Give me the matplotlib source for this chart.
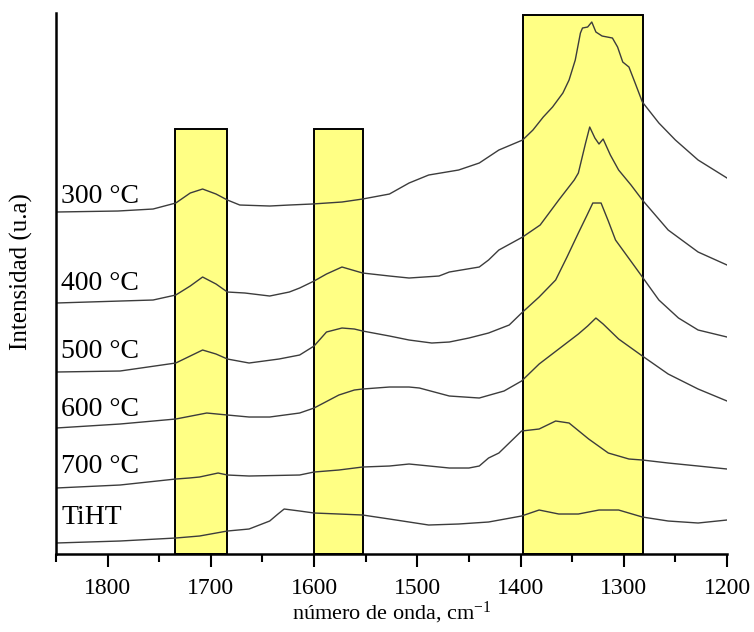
import matplotlib
matplotlib.use("Agg")
import matplotlib.pyplot as plt
from matplotlib.patches import Rectangle
from matplotlib.ticker import MultipleLocator

plt.rcParams["font.family"] = ["Liberation Serif", "DejaVu Serif"]
plt.rcParams["mathtext.default"] = "regular"

# espectros (número de onda en cm-1, intensidad con desplazamiento)
wn_300 = [1850, 1790, 1756, 1734, 1720, 1708, 1695, 1684, 1672, 1643, 1624, 1602, 1573, 1553,
          1527, 1508, 1489, 1460, 1440, 1421, 1398, 1388, 1378, 1369, 1359, 1353, 1347, 1342,
          1340, 1335, 1331, 1327, 1321, 1311, 1306, 1301, 1295, 1289, 1282, 1266, 1250, 1228,
          1200]
i_300 = [342, 343, 345, 351, 361, 365, 360, 354, 349, 348, 349, 350, 352, 355,
         360, 371, 379, 384, 391, 404, 414, 424, 437, 447, 461, 474, 494, 521,
         526, 527, 532, 522, 518, 516, 507, 492, 487, 471, 452, 431, 414, 394,
         376]

wn_400 = [1850, 1756, 1734, 1720, 1708, 1695, 1684, 1667, 1643, 1624, 1614, 1600, 1588, 1573,
          1553, 1527, 1508, 1479, 1469, 1440, 1431, 1421, 1398, 1381, 1363, 1348, 1344, 1337,
          1333, 1328, 1324, 1320, 1313, 1305, 1293, 1282, 1257, 1228, 1200]
i_400 = [251, 254, 259, 268, 277, 270, 262, 261, 258, 262, 266, 273, 280, 287,
         281, 278, 276, 278, 282, 287, 294, 304, 317, 329, 354, 374, 381, 411,
         427, 416, 410, 415, 399, 384, 369, 354, 324, 302, 289]

wn_500 = [1850, 1788, 1734, 1720, 1708, 1695, 1684, 1663, 1634, 1614, 1600, 1588, 1573, 1561,
          1553, 1527, 1508, 1486, 1469, 1450, 1431, 1411, 1399, 1382, 1366, 1355, 1344, 1336,
          1330, 1322, 1315, 1308, 1289, 1282, 1266, 1247, 1228, 1200]
i_500 = [182, 183, 191, 198, 204, 200, 195, 191, 195, 199, 208, 222, 226, 225,
         223, 218, 214, 211, 212, 216, 221, 229, 241, 257, 274, 297, 321, 338,
         351, 351, 333, 314, 287, 277, 254, 236, 224, 217]

wn_600 = [1850, 1788, 1734, 1704, 1684, 1663, 1643, 1614, 1600, 1576, 1561, 1553, 1527, 1508,
          1498, 1469, 1440, 1416, 1399, 1382, 1363, 1344, 1335, 1327, 1320, 1315, 1305, 1282,
          1257, 1228, 1200]
i_600 = [126, 130, 135, 141, 139, 137, 137, 141, 146, 159, 164, 165, 167, 167,
         166, 158, 156, 163, 173, 190, 205, 220, 228, 236, 230, 225, 215, 198,
         180, 165, 153]

wn_700 = [1850, 1788, 1734, 1721, 1711, 1693, 1684, 1663, 1614, 1600, 1576, 1553, 1527, 1508,
          1498, 1469, 1450, 1440, 1431, 1421, 1399, 1382, 1366, 1353, 1334, 1315, 1295, 1282,
          1257, 1228, 1200]
i_700 = [66, 69, 75, 76, 77, 81, 79, 78, 79, 82, 84, 87, 88, 90,
         89, 86, 86, 88, 96, 101, 123, 125, 133, 131, 115, 101, 95, 94,
         91, 88, 85]

wn_tiht = [1850, 1788, 1734, 1711, 1684, 1663, 1643, 1635, 1629, 1614, 1600, 1576, 1553, 1527,
           1508, 1489, 1460, 1431, 1399, 1382, 1363, 1344, 1324, 1305, 1282, 1257, 1228, 1200]
i_tiht = [11, 13, 16, 18, 23, 25, 33, 40, 45, 43, 41, 40, 39, 35,
          32, 29, 30, 32, 38, 44, 40, 40, 44, 44, 37, 33, 31, 34]

labels = ["300 °C", "400 °C", "500 °C", "600 °C", "700 °C", "TiHT"]
label_y = [351, 264, 196, 138, 81, 30]

# bandas resaltadas: (inicio, fin, altura)
band_start = [1735, 1600, 1398]
band_end = [1684, 1553, 1281]
band_top = [425, 425, 539]


def main():
    fig = plt.figure(figsize=(7.54, 6.32), dpi=100)
    ax = fig.add_axes([0.0743, 0.1234, 0.8899, 0.856])

    for x0, x1, top in zip(band_start, band_end, band_top):
        ax.add_patch(Rectangle((x1, 0), x0 - x1, top, facecolor="#ffff84",
                               edgecolor="black", linewidth=1.4, zorder=1))

    spectra = [(wn_300, i_300), (wn_400, i_400), (wn_500, i_500),
               (wn_600, i_600), (wn_700, i_700), (wn_tiht, i_tiht)]
    for wn, inten in spectra:
        ax.plot(wn, inten, color="#3c3c3c", linewidth=1.0, zorder=2)

    for text, y in zip(labels, label_y):
        ax.text(1845, y, text, fontsize=20, va="baseline", ha="left", zorder=3)

    ax.set_xlim(1850, 1200)
    ax.set_ylim(0, 541)
    ax.xaxis.set_major_locator(MultipleLocator(100))
    ax.xaxis.set_minor_locator(MultipleLocator(50))
    ax.set_yticks([])

    for side in ("top", "right"):
        ax.spines[side].set_visible(False)
    for side in ("left", "bottom"):
        ax.spines[side].set_linewidth(1.8)

    ax.tick_params(axis="x", which="major", direction="out", length=9, width=1.5,
                   labelsize=17, pad=8)
    ax.tick_params(axis="x", which="minor", direction="out", length=6, width=1.5)

    ax.set_xlabel("número de onda, cm$^{-1}$", fontsize=16, labelpad=1)
    ax.set_ylabel("Intensidad (u.a)", fontsize=18)
    ax.yaxis.set_label_coords(-0.035, 0.523)

    fig.savefig("out.png", dpi=100)
    plt.close(fig)


if __name__ == "__main__":
    main()
